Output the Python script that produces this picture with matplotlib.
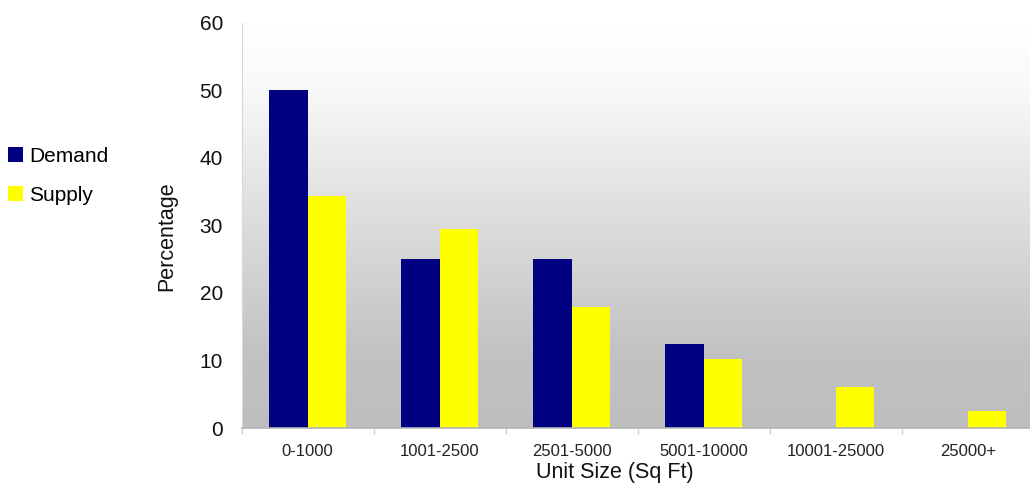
import numpy as np
import matplotlib
matplotlib.use("Agg")
import matplotlib.pyplot as plt
from matplotlib.colors import LinearSegmentedColormap
from matplotlib.ticker import FixedLocator

plt.rcParams["font.family"] = ["Liberation Sans", "DejaVu Sans"]

categories = ["0-1000", "1001-2500", "2501-5000", "5001-10000", "10001-25000", "25000+"]
demand = [50.0, 25.0, 25.0, 12.5, 0.0, 0.0]
supply = [34.3, 29.4, 17.9, 10.2, 6.1, 2.5]
series_names = ["Demand", "Supply"]
series_colors = ["#000080", "#FFFF00"]

fig = plt.figure(figsize=(10.30, 4.86), dpi=100)
ax = fig.add_axes([241.7 / 1030, 1 - 428 / 486, 792 / 1030, (428 - 22.7) / 486])

# vertical white-to-grey backdrop
grad = LinearSegmentedColormap.from_list(
    "bg", [(0.0, "#bebebe"), (0.18, "#c2c2c2"), (0.55, "#e0e0e0"), (0.85, "#fafafa"), (1.0, "#ffffff")]
)
ax.imshow(np.linspace(0, 1, 256).reshape(-1, 1), cmap=grad, origin="lower",
          extent=[0, 1, 0, 1], transform=ax.transAxes, aspect="auto", zorder=0)

x = np.arange(len(categories))
w = 0.29
ax.bar(x - w / 2, demand, width=w, color=series_colors[0], label=series_names[0], zorder=2)
ax.bar(x + w / 2, supply, width=w, color=series_colors[1], label=series_names[1], zorder=2)

ax.set_xlim(-0.5, len(categories) - 0.5)
ax.set_ylim(0, 60)
ax.set_yticks(np.arange(0, 61, 10))
ax.tick_params(axis="y", length=0, pad=13.5, labelsize=15, colors="#111111")
ax.set_xticks(x)
ax.set_xticklabels(categories)
ax.tick_params(axis="x", which="major", length=0, pad=11.5, labelsize=12, colors="#222222")
ax.xaxis.set_minor_locator(FixedLocator(np.arange(-0.5, len(categories), 1.0)))
ax.tick_params(axis="x", which="minor", length=4, color="#d0d0d0", width=1)

for s in ["top", "right"]:
    ax.spines[s].set_visible(False)
ax.spines["left"].set_color("#d8d8d8")
ax.spines["bottom"].set_color("#b4b4b4")
ax.spines["bottom"].set_linewidth(1.2)

fig.text(615 / 1030, 1 - 472 / 486, "Unit Size (Sq Ft)", ha="center", va="center", fontsize=15.5, color="#111111")
fig.text(167 / 1030, 1 - 236 / 486, "Percentage", ha="center", va="center", rotation=90, fontsize=15.5, color="#111111")

handles, labels = ax.get_legend_handles_labels()
fig.legend(handles, labels, loc="upper left", bbox_to_anchor=(8 / 1030, 1 - 147 / 486),
           frameon=False, fontsize=15, handlelength=0.72, handleheight=0.72,
           handletextpad=0.3, labelspacing=0.95, borderpad=0, borderaxespad=0)

fig.savefig("out.png", dpi=100)
